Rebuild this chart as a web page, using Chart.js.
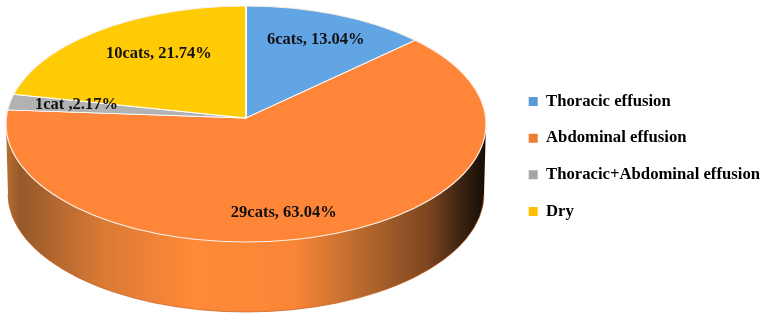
<!DOCTYPE html>
<html>
<head>
<meta charset="utf-8">
<style>
  html, body { margin: 0; padding: 0; background: #fff; }
  canvas { display: block; }
</style>
<script src="https://cdn.jsdelivr.net/npm/chart.js@4"></script>
</head>
<body>
<canvas id="grafico" width="765" height="316"></canvas>
<script>
const categorias = ['Thoracic effusion', 'Abdominal effusion', 'Thoracic+Abdominal effusion', 'Dry'];
const gatos = [6, 29, 1, 10];
const etiquetas = ['6cats, 13.04%', '29cats, 63.04%', '1cat ,2.17%', '10cats, 21.74%'];

const coloresPie = ['#62a5e4', '#ff8538', '#b2b2b2', '#ffcb05'];
const coloresLeyenda = ['#5b9bd5', '#ed7d31', '#a5a5a5', '#ffc000'];

// vista inclinada: vertice del pie y elipses de arriba y abajo
const vertice = { x: 246, y: 118 };
const tapa = { x: 246, y: 124, rx: 240, ry: 118 };
const base = { x: 246, y: 194, rx: 238, ry: 118 };
const holgura = 1.08;

// donde va cada etiqueta, como fraccion del radio sobre el angulo medio
const lugarEtiqueta = [[0.73, 0.72], [0.47, 0.85], [0.713, 0.80], [0.575, 0.70]];

const pie3d = {
  id: 'pie3d',
  afterLayout(chart) {
    // la leyenda va un poco mas a la derecha que su sitio por defecto
    chart.legend.left += 5;
    chart.legend.right += 5;
  },
  beforeDatasetsDraw(chart) {
    const ctx = chart.ctx;
    // pared lateral
    const grad = ctx.createLinearGradient(tapa.x - tapa.rx, 0, tapa.x + tapa.rx, 0);
    grad.addColorStop(0, '#b8702f');
    grad.addColorStop(0.03, '#96582a');
    grad.addColorStop(0.2, '#d97a35');
    grad.addColorStop(0.39, '#ff8a38');
    grad.addColorStop(0.6, '#f98637');
    grad.addColorStop(0.76, '#b0642c');
    grad.addColorStop(0.88, '#7b4620');
    grad.addColorStop(0.95, '#3a2210');
    grad.addColorStop(1, '#140c05');
    ctx.save();
    ctx.beginPath();
    ctx.ellipse(tapa.x, tapa.y, tapa.rx, tapa.ry, 0, 0, Math.PI);
    ctx.ellipse(base.x, base.y, base.rx, base.ry, 0, Math.PI, 0, true);
    ctx.closePath();
    ctx.fillStyle = grad;
    ctx.fill();
    // borde inferior algo mas rojizo
    ctx.beginPath();
    ctx.ellipse(base.x, base.y, base.rx, base.ry, 0, Math.PI, 0, true);
    ctx.strokeStyle = 'rgba(196, 92, 28, 0.7)';
    ctx.lineWidth = 1;
    ctx.stroke();
    ctx.restore();

    // la tapa: los arcos de Chart.js aplastados y recortados a la elipse
    const arco = chart.getDatasetMeta(0).data[0];
    ctx.save();
    ctx.beginPath();
    ctx.ellipse(tapa.x, tapa.y, tapa.rx, tapa.ry, 0, 0, Math.PI * 2);
    ctx.clip();
    ctx.translate(vertice.x, vertice.y);
    ctx.scale(tapa.rx * holgura / arco.outerRadius, tapa.ry * holgura / arco.outerRadius);
    ctx.translate(-arco.x, -arco.y);
  },
  afterDatasetsDraw(chart) {
    const ctx = chart.ctx;
    ctx.restore();

    ctx.save();
    ctx.beginPath();
    ctx.ellipse(tapa.x, tapa.y, tapa.rx, tapa.ry, 0, 0, Math.PI * 2);
    ctx.strokeStyle = '#fbeee4';
    ctx.lineWidth = 1.2;
    ctx.stroke();

    ctx.font = 'bold 16.5px "Liberation Serif"';
    ctx.fillStyle = '#111';
    ctx.textAlign = 'center';
    ctx.textBaseline = 'middle';
    chart.getDatasetMeta(0).data.forEach((a, i) => {
      // angulo medio de la rebanada, 0 arriba
      const medio = (a.startAngle + a.endAngle) / 2 + Math.PI / 2;
      const x = vertice.x + lugarEtiqueta[i][0] * tapa.rx * Math.sin(medio);
      const y = vertice.y - lugarEtiqueta[i][1] * tapa.ry * Math.cos(medio);
      ctx.fillText(etiquetas[i], x, y);
    });
    ctx.restore();
  }
};

new Chart(document.getElementById('grafico'), {
  type: 'pie',
  data: {
    labels: categorias,
    datasets: [{
      data: gatos,
      backgroundColor: coloresPie,
      borderColor: '#ffffff',
      borderWidth: 1,
      clip: false
    }]
  },
  options: {
    responsive: false,
    animation: false,
    events: [],
    layout: { padding: { right: 0, bottom: 3 } },
    plugins: {
      tooltip: { enabled: false },
      legend: {
        position: 'right',
        labels: {
          boxWidth: 9,
          boxHeight: 9,
          padding: 20,
          color: '#111',
          font: { family: '"Liberation Serif"', weight: 'bold', size: 16.7 },
          generateLabels: () => categorias.map((c, i) => ({
            text: c,
            fillStyle: coloresLeyenda[i],
            strokeStyle: coloresLeyenda[i],
            lineWidth: 0,
            index: i
          }))
        }
      }
    }
  },
  plugins: [pie3d]
});
</script>
</body>
</html>
